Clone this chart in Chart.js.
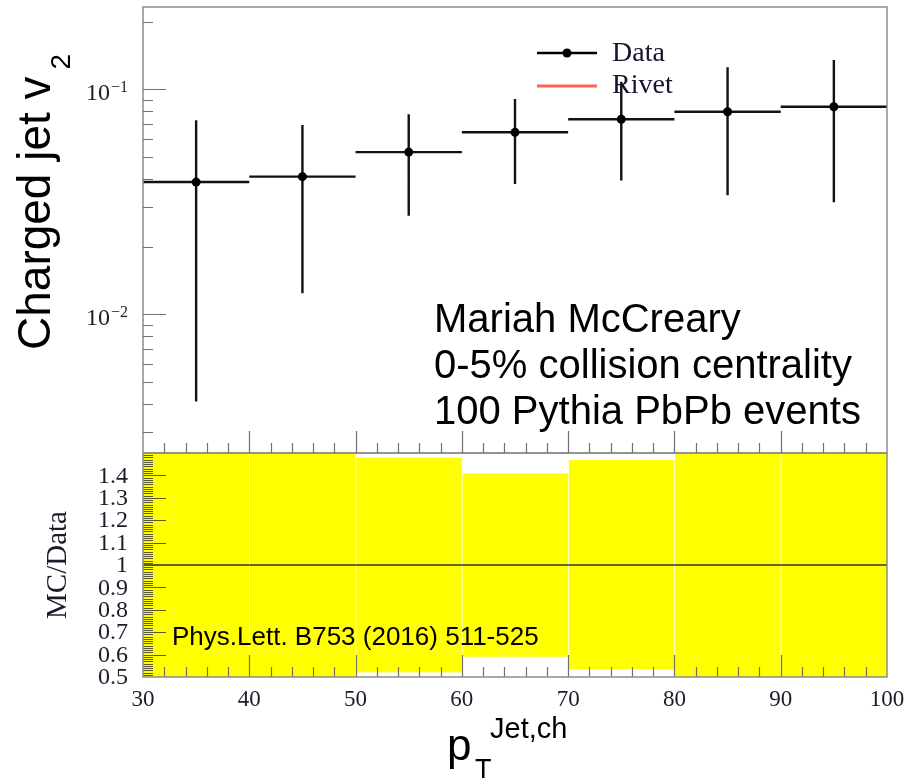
<!DOCTYPE html>
<html>
<head>
<meta charset="utf-8">
<script src="https://cdn.jsdelivr.net/npm/chart.js@4.4.1/dist/chart.umd.min.js"></script>
<style>
  html, body { margin: 0; padding: 0; background: #fff; }
  #wrap { position: relative; width: 909px; height: 780px; }
  canvas { position: absolute; left: 0; top: 0; }
</style>
</head>
<body>
<div id="wrap">
  <canvas id="ratio" width="909" height="780"></canvas>
  <canvas id="main" width="909" height="780"></canvas>
</div>
<script>
// bins in pT (jet, charged)
const binLow = [30, 40, 50, 60, 70, 80, 90];
const binHigh = [40, 50, 60, 70, 80, 90, 100];
const binCenter = [35, 45, 55, 65, 75, 85, 95];

// charged jet v2 with error bar ends
const v2Data = [0.0387, 0.0409, 0.0526, 0.0644, 0.0736, 0.0795, 0.0837];
const v2Lower = [0.0041, 0.0124, 0.0274, 0.0379, 0.0393, 0.0338, 0.0315];
const v2Upper = [0.0728, 0.0694, 0.0774, 0.0906, 0.108, 0.1253, 0.135];

// MC/Data error band
const bandLow = [0.10, 0.31, 0.52, 0.59, 0.535, 0.425, 0.38];
const bandHigh = [1.88, 1.70, 1.48, 1.41, 1.47, 1.58, 1.61];

// tick labels
const xTickValues = [30, 40, 50, 60, 70, 80, 90, 100];
const xTickLabels = ["30", "40", "50", "60", "70", "80", "90", "100"];
const logTickValues = [0.1, 0.01];
const logTickExp = ["\u22121", "\u22122"];
const ratioTickValues = [1.4, 1.3, 1.2, 1.1, 1.0, 0.9, 0.8, 0.7, 0.6, 0.5];
const ratioTickLabels = ["1.4", "1.3", "1.2", "1.1", "1", "0.9", "0.8", "0.7", "0.6", "0.5"];

const legendNames = ["Data", "Rivet"];
const noteLines = ["Mariah McCreary", "0-5% collision centrality", "100 Pythia PbPb events"];
const refText = "Phys.Lett. B753 (2016) 511-525";

const SANS = '"Liberation Sans", Arial, sans-serif';
const SERIF = '"Liberation Serif", "Times New Roman", serif';
const FRAME = "#8c8c8c";
const TICK = "#707070";
const INK = "#111";

function drawFrame(ctx, area) {
  ctx.save();
  ctx.strokeStyle = FRAME;
  ctx.lineWidth = 1.5;
  ctx.strokeRect(area.left, area.top, area.right - area.left, area.bottom - area.top);
  ctx.restore();
}

function drawXTicks(ctx, x, yBase) {
  ctx.save();
  ctx.lineWidth = 1.2;
  ctx.beginPath();
  for (let v = 32; v < 100; v += 2) {
    const px = Math.round(x.getPixelForValue(v)) + 0.5;
    const len = v % 10 === 0 ? 22 : 10;
    ctx.moveTo(px, yBase);
    ctx.lineTo(px, yBase - len);
  }
  ctx.stroke();
  ctx.restore();
}

const topDecor = {
  id: "topDecor",
  beforeDatasetsDraw(chart) {
    const { ctx, scales: { x, y } } = chart;
    ctx.save();
    ctx.strokeStyle = INK;
    ctx.lineWidth = 2.4;
    ctx.beginPath();
    binCenter.forEach((c, i) => {
      const px = x.getPixelForValue(c);
      const py = y.getPixelForValue(v2Data[i]);
      ctx.moveTo(x.getPixelForValue(binLow[i]), py);
      ctx.lineTo(x.getPixelForValue(binHigh[i]), py);
      ctx.moveTo(px, y.getPixelForValue(v2Lower[i]));
      ctx.lineTo(px, y.getPixelForValue(v2Upper[i]));
    });
    ctx.stroke();
    ctx.restore();
  },
  afterDraw(chart) {
    const { ctx, chartArea: a, scales: { x, y } } = chart;
    drawFrame(ctx, a);
    ctx.save();

    // log y ticks, inside the frame
    ctx.strokeStyle = TICK;
    ctx.lineWidth = 1.2;
    ctx.beginPath();
    [0.001, 0.01, 0.1].forEach((d) => {
      for (let k = 1; k <= 9; k++) {
        const v = k * d;
        if (v <= y.min || v >= y.max) continue;
        const py = Math.round(y.getPixelForValue(v)) + 0.5;
        ctx.moveTo(a.left, py);
        ctx.lineTo(a.left + (k === 1 ? 23 : 10), py);
      }
    });
    ctx.stroke();
    drawXTicks(ctx, x, a.bottom);

    // y tick labels 10^-n
    ctx.fillStyle = "#1b1b2a";
    ctx.textBaseline = "alphabetic";
    logTickValues.forEach((v, i) => {
      const py = y.getPixelForValue(v);
      ctx.font = "16px " + SERIF;
      ctx.textAlign = "right";
      const ew = ctx.measureText(logTickExp[i]).width;
      ctx.fillText(logTickExp[i], a.left - 15, py + 2.5);
      ctx.font = "24px " + SERIF;
      ctx.fillText("10", a.left - 16 - ew, py + 11);
    });

    // y axis title
    ctx.save();
    ctx.translate(50, 350);
    ctx.rotate(-Math.PI / 2);
    ctx.fillStyle = "#000";
    ctx.textAlign = "left";
    ctx.font = "46px " + SANS;
    const tw = ctx.measureText("Charged jet v").width;
    ctx.fillText("Charged jet v", 0, 0);
    ctx.font = "28px " + SANS;
    ctx.fillText("2", tw + 7, 20);
    ctx.restore();

    // legend
    const lx = a.left + 394;
    const ly = a.top + 46;
    ctx.strokeStyle = "#000";
    ctx.lineWidth = 2.4;
    ctx.beginPath();
    ctx.moveTo(lx, ly);
    ctx.lineTo(lx + 60, ly);
    ctx.stroke();
    ctx.fillStyle = "#000";
    ctx.beginPath();
    ctx.arc(lx + 30, ly, 4.5, 0, Math.PI * 2);
    ctx.fill();
    ctx.strokeStyle = "#ff6650";
    ctx.lineWidth = 3;
    ctx.beginPath();
    ctx.moveTo(lx, ly + 33);
    ctx.lineTo(lx + 60, ly + 33);
    ctx.stroke();
    ctx.fillStyle = "#141430";
    ctx.font = "28px " + SERIF;
    ctx.textAlign = "left";
    ctx.fillText(legendNames[0], lx + 75, ly + 8);
    ctx.fillText(legendNames[1], lx + 75, ly + 40);

    // notes
    ctx.fillStyle = "#000";
    ctx.font = "40px " + SANS;
    noteLines.forEach((t, i) => {
      ctx.fillText(t, a.left + 291, a.top + 324.5 + i * 46);
    });
    ctx.restore();
  }
};

const ratioDecor = {
  id: "ratioDecor",
  afterDatasetsDraw(chart) {
    const { ctx, chartArea: a, scales: { x, y } } = chart;
    ctx.save();
    ctx.strokeStyle = "#5a5a2a";
    ctx.lineWidth = 1.1;
    ctx.beginPath();
    for (let i = 1; i < 100; i++) {
      const v = 0.5 + i * 0.01;
      const py = Math.round(y.getPixelForValue(v)) + 0.5;
      ctx.moveTo(a.left, py);
      ctx.lineTo(a.left + (i % 10 === 0 ? 23 : 10), py);
    }
    ctx.stroke();
    ctx.strokeStyle = TICK;
    drawXTicks(ctx, x, a.bottom);

    ctx.fillStyle = "#000";
    ctx.font = "26px " + SANS;
    ctx.textAlign = "left";
    ctx.textBaseline = "alphabetic";
    ctx.fillText(refText, a.left + 29, a.top + 192);
    ctx.restore();
  },
  afterDraw(chart) {
    const { ctx, chartArea: a, scales: { x, y } } = chart;
    drawFrame(ctx, a);
    ctx.save();
    ctx.fillStyle = "#1b1b2a";
    ctx.font = "24px " + SERIF;
    ctx.textAlign = "right";
    ctx.textBaseline = "middle";
    ratioTickValues.forEach((v, i) => {
      ctx.fillText(ratioTickLabels[i], a.left - 15, y.getPixelForValue(v) + 1);
    });
    ctx.font = "23px " + SERIF;
    ctx.textAlign = "center";
    xTickValues.forEach((v, i) => {
      ctx.fillText(xTickLabels[i], x.getPixelForValue(v), a.bottom + 23);
    });

    // MC/Data title
    ctx.save();
    ctx.translate(66, y.getPixelForValue(1));
    ctx.rotate(-Math.PI / 2);
    ctx.textBaseline = "alphabetic";
    ctx.font = "29px " + SERIF;
    ctx.fillText("MC/Data", 0, 0);
    ctx.restore();

    // x axis title p_T^{Jet,ch}
    ctx.fillStyle = "#000";
    ctx.textAlign = "left";
    ctx.textBaseline = "alphabetic";
    ctx.font = "44px " + SANS;
    ctx.fillText("p", 447, 760);
    ctx.font = "27px " + SANS;
    ctx.fillText("T", 475, 778);
    ctx.font = "29px " + SANS;
    ctx.fillText("Jet,ch", 490, 738);
    ctx.restore();
  }
};

const mainChart = new Chart(document.getElementById("main"), {
  type: "scatter",
  data: {
    datasets: [{
      label: legendNames[0],
      data: binCenter.map((c, i) => ({ x: c, y: v2Data[i] })),
      pointRadius: 4.5,
      pointHoverRadius: 4.5,
      pointBackgroundColor: "#000",
      pointBorderWidth: 0,
      showLine: false
    }]
  },
  options: {
    responsive: false,
    animation: false,
    layout: { padding: { left: 143, right: 22, top: 7, bottom: 327 } },
    plugins: { legend: { display: false }, tooltip: { enabled: false } },
    scales: {
      x: { type: "linear", min: 30, max: 100, display: false },
      y: { type: "logarithmic", min: 0.002418, max: 0.2322, display: false }
    }
  },
  plugins: [topDecor]
});

const ratioChart = new Chart(document.getElementById("ratio"), {
  type: "bar",
  data: {
    datasets: [{
      type: "line",
      data: [{ x: 30, y: 1 }, { x: 100, y: 1 }],
      borderColor: "#333",
      borderWidth: 1.5,
      pointRadius: 0
    }, {
      data: binCenter.map((c, i) => ({ x: c, y: [bandLow[i], bandHigh[i]] })),
      backgroundColor: "#ffff00",
      borderColor: "rgba(255,255,255,0.25)",
      borderWidth: { left: 1, right: 0, top: 0, bottom: 0 },
      borderSkipped: false,
      barPercentage: 1,
      categoryPercentage: 1
    }]
  },
  options: {
    responsive: false,
    animation: false,
    layout: { padding: { left: 143, right: 22, top: 453, bottom: 103 } },
    plugins: { legend: { display: false }, tooltip: { enabled: false } },
    scales: {
      x: { type: "linear", min: 30, max: 100, offset: false, display: false },
      y: { type: "linear", min: 0.5, max: 1.5, display: false }
    }
  },
  plugins: [ratioDecor]
});
</script>
</body>
</html>
